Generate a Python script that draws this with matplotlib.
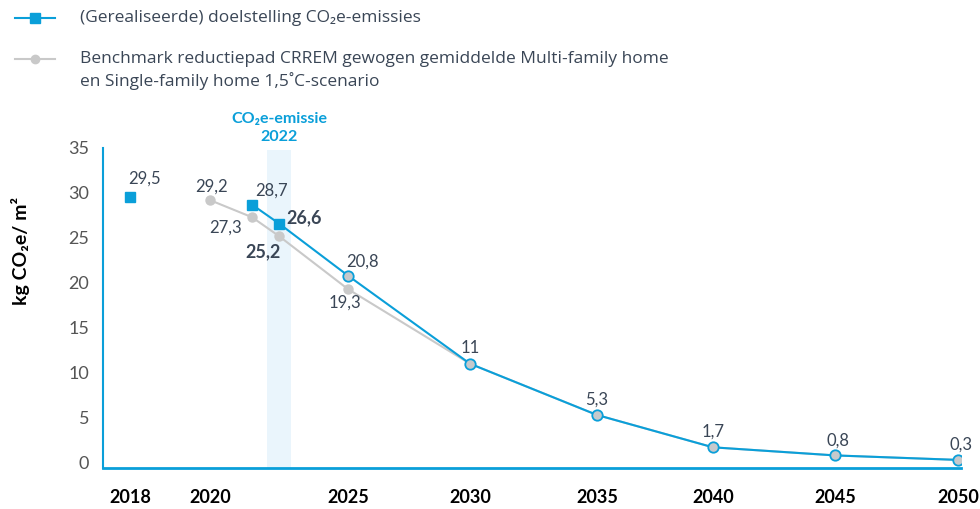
import numpy as np
import matplotlib
matplotlib.use("Agg")
import matplotlib.pyplot as plt
from matplotlib.lines import Line2D

plt.rcParams['font.family'] = ['Lato', 'DejaVu Sans']

# data
blue_years = [2018, 2021, 2022, 2025, 2030, 2035, 2040, 2045, 2050]
blue_vals = [29.5, 28.7, 26.6, 20.8, 11, 5.3, 1.7, 0.8, 0.3]
grey_years = [2020, 2021, 2022, 2025, 2030, 2035, 2040, 2045, 2050]
grey_vals = [29.2, 27.3, 25.2, 19.3, 11, 5.3, 1.7, 0.8, 0.3]
tick_years = [2018, 2020, 2025, 2030, 2035, 2040, 2045, 2050]
highlight_year = 2022

# uneven x axis of the original (year -> horizontal position)
anchor_years = [2016, 2018, 2020, 2021, 2022, 2025, 2030, 2035, 2040, 2045, 2050, 2052]
anchor_pos = [50, 130, 210, 252, 279, 348, 470, 597, 713, 835, 958, 1007]

def fwd(x):
    return np.interp(x, anchor_years, anchor_pos)

def inv(p):
    return np.interp(p, anchor_pos, anchor_years)

BLUE = '#0a9fd9'
GREY = '#c9c9c9'
TXT = '#3a4656'
LEG_FONT = ['Open Sans', 'DejaVu Sans']

fig = plt.figure(figsize=(9.8, 5.09), dpi=100)
ax = fig.add_axes([103/980, 1-468/509, (961-103)/980, (468-148)/509])
ax.set_xscale('function', functions=(fwd, inv))
ax.set_xlim(inv(103), inv(961))
ax.set_ylim(-0.6, 35)

# highlight band for 2022
ax.axvspan(inv(fwd(highlight_year) - 12), inv(fwd(highlight_year) + 12),
           ymax=0.995, color='#eaf5fc', zorder=0, lw=0)

# grey benchmark
ax.plot(grey_years, grey_vals, color=GREY, lw=1.5, marker='o', ms=6.5,
        mfc=GREY, mec=GREY, zorder=2)

# blue realised / target
ax.plot(blue_years[:1], blue_vals[:1], ls='none', marker='s', ms=7.5,
        color=BLUE, zorder=4)
ax.plot(blue_years[1:], blue_vals[1:], color=BLUE, lw=1.5, zorder=3)
ax.plot(blue_years[1:3], blue_vals[1:3], ls='none', marker='s', ms=7.5,
        color=BLUE, zorder=4)
ax.plot(blue_years[3:], blue_vals[3:], ls='none', marker='o', ms=7.5,
        mfc='#c6c9cc', mec=BLUE, mew=1.3, zorder=4)

# value labels (offsets in points)
blue_off = [(-1, 13.5), (2.5, 10), (5, 4.5), (-1.5, 10), (0, 11), (0, 11), (0, 11), (2, 11), (2, 11)]
blue_ha = ['left', 'left', 'left', 'left', 'center', 'center', 'center', 'center', 'center']
for i, (x, y) in enumerate(zip(blue_years, blue_vals)):
    lab = ('%g' % y).replace('.', ',')
    bold = (x == highlight_year)
    ax.annotate(lab, (x, y), xytext=blue_off[i], textcoords='offset points',
                ha=blue_ha[i], va='center', fontsize=13 if bold else 12,
                fontweight='bold' if bold else 'normal', color=TXT, zorder=5)

grey_off = [(1, 10), (-7, -7.5), (1.5, -11), (-2, -10)]
grey_ha = ['center', 'right', 'right', 'center']
for i in range(4):
    x, y = grey_years[i], grey_vals[i]
    lab = ('%g' % y).replace('.', ',')
    bold = (x == highlight_year)
    ax.annotate(lab, (x, y), xytext=grey_off[i], textcoords='offset points',
                ha=grey_ha[i], va='center', fontsize=13 if bold else 12,
                fontweight='bold' if bold else 'normal', color=TXT, zorder=5)

# band title
ax.text(highlight_year, 35.5, 'CO\u2082e-emissie\n2022', ha='center', va='bottom',
        color=BLUE, fontsize=11.5, fontweight='bold', linespacing=1.3)

# axes styling
for s in ['top', 'right']:
    ax.spines[s].set_visible(False)
ax.spines['left'].set_color(BLUE)
ax.spines['bottom'].set_color(BLUE)
ax.spines['left'].set_linewidth(1.5)
ax.spines['bottom'].set_linewidth(2)
ax.set_yticks(range(0, 36, 5))
ax.set_xticks(tick_years)
ax.set_xticklabels([str(t) for t in tick_years])
ax.tick_params(axis='y', length=0, pad=10, labelsize=13, labelcolor='#555555')
ax.tick_params(axis='x', length=0, pad=15, labelsize=13)
for t in ax.get_xticklabels():
    t.set_fontweight('bold')
ax.set_ylabel('kg CO\u2082e/ m\u00b2', fontsize=14, fontweight='bold')
ax.yaxis.set_label_coords((30-103)/858, (468-251)/320)

# legend drawn by hand
fig.add_artist(Line2D([15/980, 55/980], [1-18/509, 1-18/509], color=BLUE, lw=1.5,
                      transform=fig.transFigure))
fig.add_artist(Line2D([35/980], [1-18/509], color=BLUE, marker='s', ms=7,
                      transform=fig.transFigure))
fig.add_artist(Line2D([15/980, 55/980], [1-59/509, 1-59/509], color=GREY, lw=1.5,
                      transform=fig.transFigure))
fig.add_artist(Line2D([35/980], [1-59/509], color=GREY, marker='o', ms=6,
                      transform=fig.transFigure))
fig.text(80/980, 1-18/509, '(Gerealiseerde) doelstelling CO\u2082e-emissies',
         va='center', fontsize=12.5, color=TXT, family=LEG_FONT)
fig.text(80/980, 1-51/509,
         'Benchmark reductiepad CRREM gewogen gemiddelde Multi-family home\n'
         'en Single-family home 1,5\u02daC-scenario',
         va='top', fontsize=12.5, color=TXT, linespacing=1.35, family=LEG_FONT)

fig.savefig('out.png', dpi=100)
